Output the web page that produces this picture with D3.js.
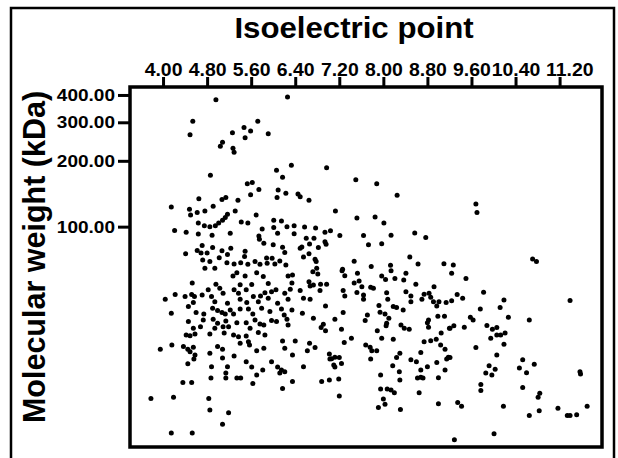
<!DOCTYPE html>
<html>
<head>
<meta charset="utf-8">
<script src="https://cdn.jsdelivr.net/npm/d3@7"></script>
<style>
body { margin: 0; background: #fff; }
text { font-family: "Liberation Sans", Arial, sans-serif; font-weight: bold; fill: #000; }
</style>
</head>
<body>
<div id="chart"></div>
<script>
// DATA - isoelectric point (pI) and molecular weight (kDa)

const pI = [
4.96,6.26,4.54,4.49,5.72,5.47,5.59,5.26,5.49,5.91,
5.08,5.04,5.27,5.29,6.33,6.06,6.17,4.86,5.53,5.62,
5.74,5.59,6.09,6.07,6.23,6.45,4.65,5.07,5.14,5.36,
4.15,4.48,4.50,4.62,4.76,4.91,5.17,5.13,5.31,5.08,
5.01,4.95,4.85,4.75,4.64,5.42,5.54,5.69,6.01,6.15,
6.25,6.38,6.01,5.80,4.21,4.42,4.64,4.89,5.22,5.74,
5.75,6.08,6.38,5.83,6.00,6.17,6.21,4.41,4.62,4.71,
4.69,4.80,4.90,5.07,5.17,5.23,5.49,5.48,5.02,4.72,
4.85,5.16,5.29,5.41,5.54,5.67,5.76,5.88,5.98,5.89,
6.03,6.12,6.23,6.49,4.76,4.94,
5.27,5.34,5.49,5.70,5.82,6.27,6.35,4.53,4.96,5.40,
5.61,5.91,6.34,4.04,4.22,4.40,4.52,4.57,4.71,4.82,
4.88,5.03,5.09,5.29,5.37,5.51,5.64,5.77,5.85,5.97,
6.05,6.21,6.31,4.55,4.94,5.17,5.40,5.52,5.73,5.91,
6.08,6.27,4.15,4.46,4.60,4.74,4.90,4.99,5.07,5.13,
5.22,5.28,5.40,5.55,5.63,5.79,5.94,6.15,6.20,6.34,
4.46,4.73,4.91,4.99,5.14,5.34,5.51,5.67,5.76,5.83,
5.97,6.06,6.25,6.27,4.68,4.55,4.94,5.09,5.19,5.58,
4.42,4.49,4.58,4.85,5.11,5.28,5.37,5.51,5.73,5.85,
5.40,5.55,5.57,6.17,6.40,3.95,4.16,4.37,4.45,4.49,
4.55,4.58,4.56,4.85,4.99,5.08,5.08,5.29,5.70,5.83,
6.21,6.35,4.45,4.88,5.17,5.51,5.61,5.81,5.97,6.08,
6.15,6.21,6.12,5.14,5.70,4.87,5.14,5.34,5.41,4.36,
4.52,5.63,6.35,6.17,3.78,4.19,4.83,4.85,5.19,5.08,
4.15,4.53,
6.97,7.50,7.88,8.25,6.49,6.65,7.13,7.52,7.85,8.01,
6.57,6.77,6.94,7.04,7.21,7.64,8.14,8.57,8.77,6.60,
6.74,6.66,6.52,6.82,6.94,6.96,7.73,7.97,6.55,6.65,
6.76,6.78,7.47,7.78,8.13,8.48,8.63,9.10,7.26,6.79,
6.72,6.81,7.25,7.30,7.53,7.97,8.04,8.14,8.21,8.41,
8.37,6.65,6.67,6.73,6.86,6.97,7.47,7.56,7.61,7.77,
7.82,8.59,8.92,6.49,6.55,6.67,6.85,7.27,7.30,7.52,
7.64,7.64,8.06,8.08,8.41,8.50,8.50,8.74,8.83,8.86,
8.70,8.91,9.01,9.14,6.95,7.92,8.18,8.24,8.36,8.97,
6.53,7.27,7.94,8.03,7.71,6.73,7.12,7.67,8.10,8.82,
8.80,8.99,9.11,6.91,6.87,6.95,7.24,8.05,8.06,8.32,
8.38,8.47,8.82,9.20,7.89,9.05,7.42,7.97,8.18,7.29,
7.68,7.76,7.79,7.88,8.74,8.86,8.96,9.04,9.12,8.68,
6.66,6.76,6.62,7.02,7.06,7.12,7.20,7.03,7.24,7.10,
7.12,7.77,8.24,8.30,8.50,8.60,8.97,9.15,9.18,6.55,
8.17,8.29,8.80,8.68,9.12,7.95,6.88,7.02,7.19,7.20,
8.30,8.62,8.68,8.72,9.00,7.95,8.07,8.14,8.20,8.65,
8.00,8.03,7.91,8.31,9.00,
9.68,9.70,9.27,10.71,10.78,9.24,9.50,9.24,9.34,9.44,
9.82,10.19,10.12,9.76,11.39,9.58,9.63,10.27,10.65,9.21,
9.28,9.47,9.88,9.98,10.06,9.95,10.06,10.13,10.21,10.19,
9.68,9.21,10.06,10.53,9.92,10.03,9.86,9.97,10.47,10.60,
10.74,11.57,11.58,9.77,9.77,10.53,10.84,10.81,9.35,9.42,
10.18,10.65,10.83,11.17,11.34,11.39,11.51,11.70,10.01,9.29
];

const mw = [
380,392,303,263,303,284,274,269,255,266,
243,233,228,219,191,181,168,172,157,159,
148,140,147,136,142,141,134,133,136,132,
123,120,113,116,118,124,114,110,118,107,
104,101,100,101,104,105,104,113,107,106,
100,101,99,97.6,96,94.3,92.6,91.3,93.3,90.7,
87.6,93.3,92.9,83.9,82.7,80.5,76.1,75.1,77.7,81.9,
75.8,75.8,80.2,77.5,74.5,79.7,77.2,73.1,72.1,70.4,
69.2,68.4,67.5,68.4,67.3,69.2,67.3,71.9,71.7,68.0,
67.5,69.7,66.8,79.7,64.5,64.5,
59.5,61.6,59.5,61.6,59.1,59.5,60.1,55.3,54.6,54.2,
54.4,55.0,55.3,46.6,48.9,47.9,48.9,47.9,48.7,51.4,
47.9,52.3,49.6,51.4,49.6,51.4,47.9,48.2,49.8,50.4,
51.4,49.6,51.7,45.0,45.4,44.7,46.6,45.0,45.4,47.0,
44.7,46.6,40.2,43.1,40.5,39.9,42.4,41.4,40.5,39.9,
41.6,39.9,42.0,42.0,39.9,42.4,40.9,42.0,39.5,41.6,
36.8,37.4,37.7,36.2,37.0,36.4,36.4,37.4,35.9,35.5,
37.2,36.8,37.7,35.5,34.9,34.3,34.3,34.9,34.9,34.3,
32.0,31.7,32.3,32.3,32.6,32.0,31.4,31.6,32.8,32.0,
29.3,29.8,28.8,30.0,30.0,27.5,28.8,28.3,27.5,26.8,
28.1,25.9,24.8,26.4,28.3,27.5,25.1,25.6,27.1,27.8,
27.8,25.9,23.6,22.9,22.9,24.1,22.8,22.1,24.1,22.8,
22.1,21.7,21.4,21.4,21.0,20.3,20.3,20.3,20.3,19.4,
19.4,19.2,19.6,18.2,16.4,16.6,16.4,14.5,14.1,12.5,
11.4,11.4,
186,164,157,139,137,132,118,109.5,110.7,103.9,
99.7,98.6,94.3,95.9,91.1,91.1,91.3,93.6,89.3,88.4,
88.4,83.3,80.8,80.2,85.2,83.1,82.7,83.6,72.6,75.1,
70.9,69.2,69.4,65.7,66.6,72.6,67.5,67.7,63.9,64.5,
62.2,60.8,62.9,59.7,61.2,59.5,57.4,62.9,58.0,61.2,
57.0,56.0,53.6,54.1,54.6,54.6,55.3,56.4,53.1,52.8,
52.3,54.6,53.1,51.0,47.0,46.6,51.0,51.0,48.2,50.0,
48.7,46.6,49.8,46.6,50.4,48.2,45.4,49.1,49.6,47.6,
46.6,45.4,45.4,45.0,43.4,43.6,43.1,42.7,41.6,43.4,
40.2,40.5,40.6,39.9,39.5,38.1,37.7,37.2,38.1,37.4,
36.4,38.9,38.9,35.8,34.6,33.4,34.0,35.2,36.2,35.5,
34.3,34.0,34.7,34.3,33.4,32.6,30.9,30.9,30.6,29.5,
28.8,28.1,27.1,27.1,29.8,30.1,30.6,28.8,27.5,26.6,
29.3,28.0,27.1,26.2,24.9,25.3,25.2,24.8,23.7,23.3,
22.8,24.8,25.2,26.4,24.6,24.1,23.9,24.8,25.3,22.9,
23.1,21.7,22.9,22.1,22.1,21.0,19.6,19.9,20.1,16.8,
19.9,20.3,20.5,20.3,20.4,18.1,18.1,17.9,17.4,17.4,
16.3,15.4,14.9,14.6,15.5,
127,116,66.8,71.2,69.2,61.2,58.0,45.8,48.9,47.0,
50.1,46.2,42.7,42.0,45.9,38.5,37.4,38.5,37.4,34.3,
35.2,34.7,35.3,34.0,34.6,30.9,32.0,32.0,32.6,29.0,
28.0,25.2,25.9,24.6,23.1,22.3,21.4,21.0,22.6,21.5,
23.5,21.7,21.2,19.0,17.8,18.4,17.3,16.6,15.7,15.1,
15.1,13.7,14.4,14.8,13.7,13.7,13.8,15.1,11.3,10.6
];

const xTicks = [4.00, 4.80, 5.60, 6.40, 7.20, 8.00, 8.80, 9.60, 10.40, 11.20];
const yTicks = [100, 200, 300, 400];

// SET UP SVG

const width = 618;
const height = 458;
const margin = {top: 87, left: 130, right: 16, bottom: 11};

const svg = d3.select("#chart")
    .append("svg")
    .attr("width", width)
    .attr("height", height);

// outer box of the figure
svg.append("rect")
    .attr("x", 11)
    .attr("y", 8)
    .attr("width", 603)
    .attr("height", 470)
    .attr("fill", "none")
    .attr("stroke", "#000")
    .attr("stroke-width", 2.5);

// SCALES

const xScale = d3.scaleLinear()
    .domain([3.4, 11.97])
    .range([margin.left, width - margin.right]);

const yScale = d3.scaleLog()
    .domain([9.83, 435])
    .range([height - margin.bottom, margin.top]);

// MARKS

svg.append("g")
    .selectAll("circle")
    .data(pI)
    .join("circle")
        .attr("cx", function(d) { return xScale(d); })
        .attr("cy", function(d, i) { return yScale(mw[i]); })
        .attr("r", 2.5)
        .attr("fill", "#000");

// AXES

const xAxis = svg.append("g")
    .attr("transform", `translate(0,${margin.top})`)
    .call(d3.axisTop(xScale).tickValues(xTicks).tickFormat(d3.format(".2f")).tickSize(10).tickPadding(1));
xAxis.select(".domain").remove();
xAxis.selectAll("line").attr("stroke", "#000").attr("stroke-width", 3);
xAxis.selectAll("text")
    .style("font-size", "18px")
    .attr("transform", "scale(1.08,1)")
    .attr("dx", function(d) { return d === 11.2 ? 9 : 0; }); // last label sits a bit right of its tick in the original

const yStretch = 1.12;
const yAxis = svg.append("g")
    .attr("transform", `translate(${margin.left},0)`)
    .call(d3.axisLeft(yScale).tickValues(yTicks).tickFormat(d3.format(".2f")).tickSize(12).tickPadding(3));
yAxis.select(".domain").remove();
yAxis.selectAll("line").attr("stroke", "#000").attr("stroke-width", 3);
yAxis.selectAll("text")
    .style("font-size", "17px")
    .attr("x", -15 / yStretch)
    .attr("transform", `scale(${yStretch},1)`);

// plot frame
svg.append("rect")
    .attr("x", margin.left)
    .attr("y", margin.top)
    .attr("width", width - margin.right - margin.left)
    .attr("height", height - margin.bottom - margin.top)
    .attr("fill", "none")
    .attr("stroke", "#000")
    .attr("stroke-width", 3.5);

// AXIS LABELS

svg.append("text")
    .attr("transform", "translate(354,38) scale(1.04,1)")
    .attr("text-anchor", "middle")
    .style("font-size", "30px")
    .text("Isoelectric point");

svg.append("text")
    .attr("transform", "translate(45,257) rotate(-90)")
    .attr("text-anchor", "middle")
    .style("font-size", "30.5px")
    .text("Molecular weight (kDa)");
</script>
</body>
</html>
